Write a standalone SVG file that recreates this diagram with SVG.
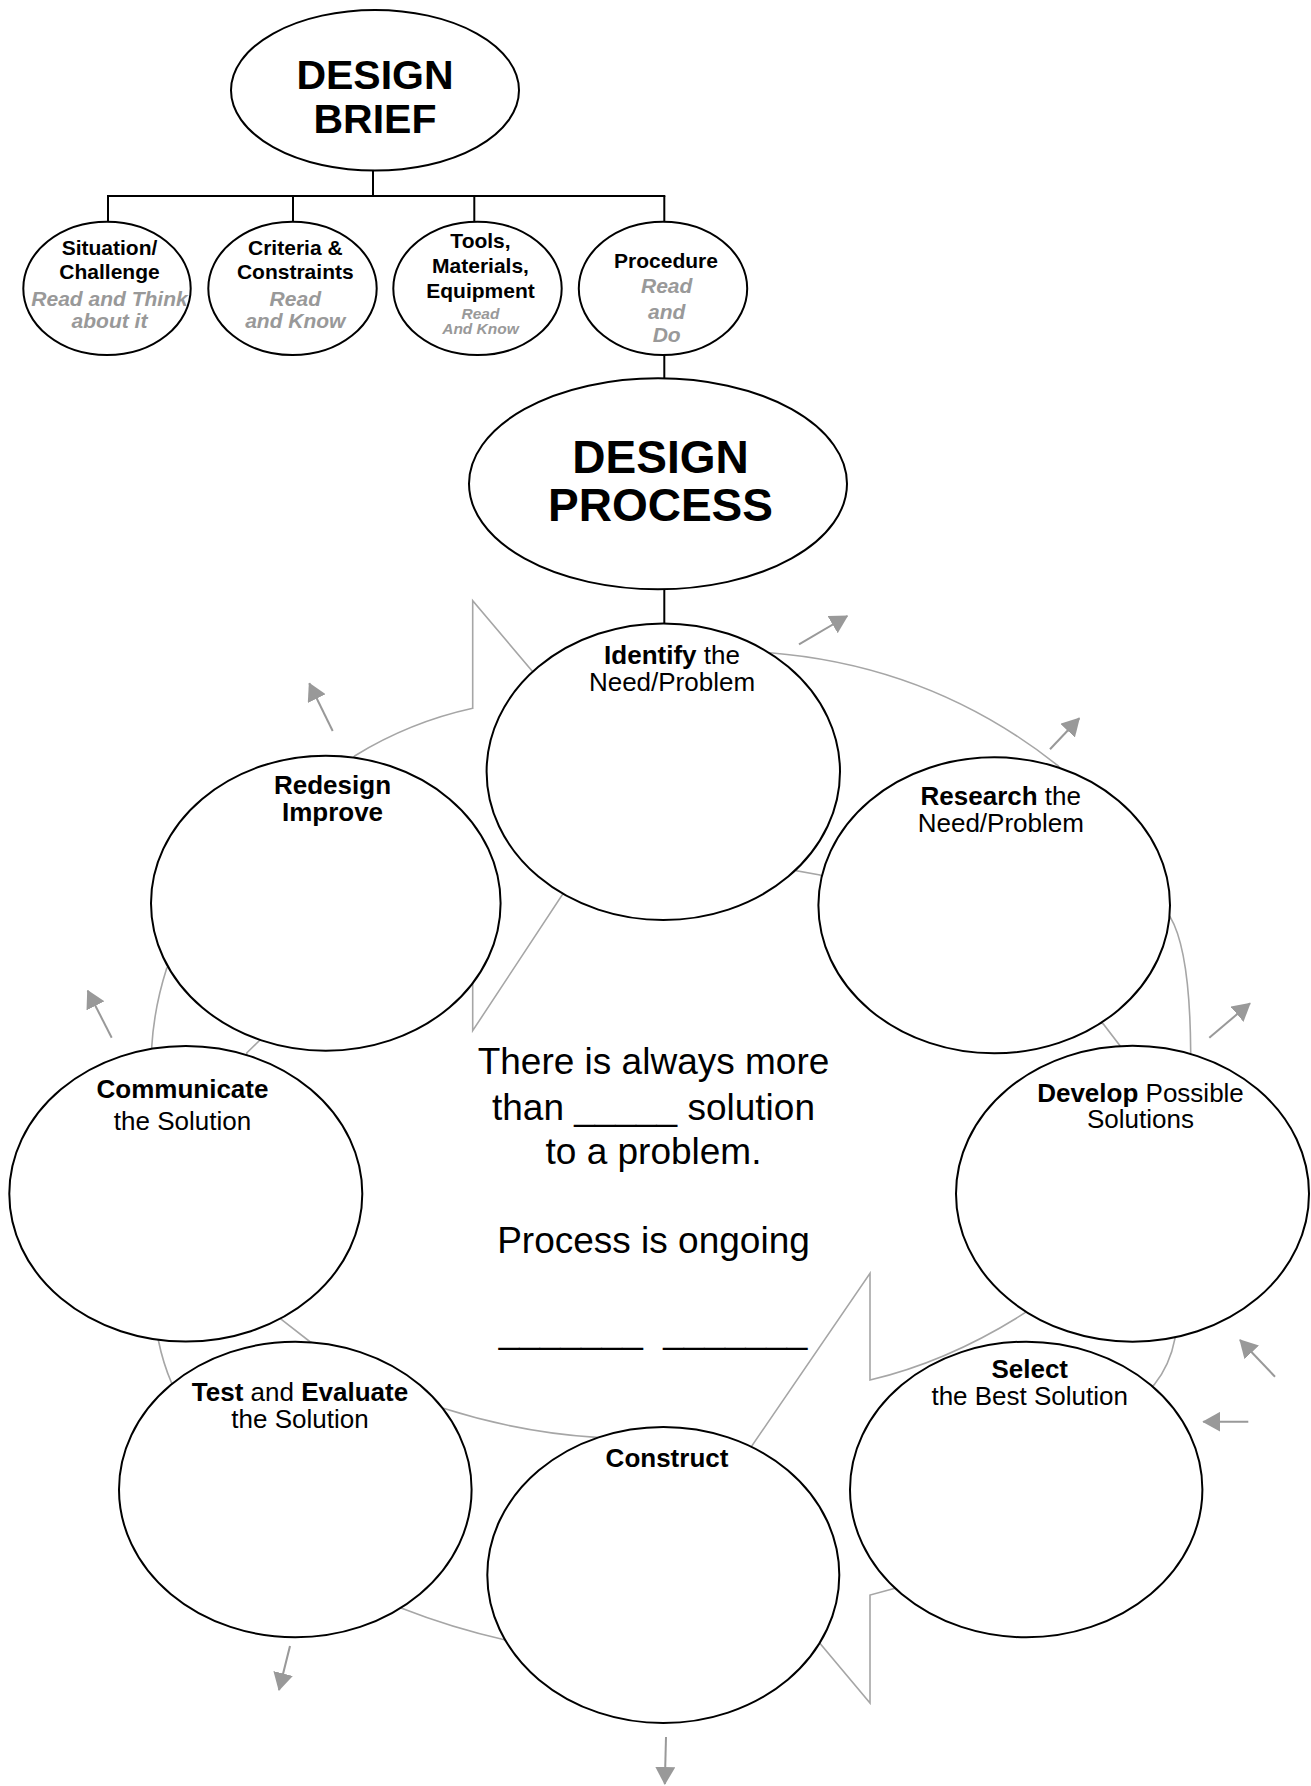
<svg xmlns="http://www.w3.org/2000/svg" width="1311" height="1786" viewBox="0 0 1311 1786">
<style>
.node ellipse{fill:#fff;stroke:#000;stroke-width:2}
text{font-family:"Liberation Sans",Arial,sans-serif;text-anchor:middle;fill:#000}
.big{font-weight:bold;font-size:41px}
.big2{font-weight:bold;font-size:46px}
.sm{font-weight:bold;font-size:21px}
.gr{fill:#999;font-weight:bold;font-style:italic;font-size:21px}
.gr2{fill:#999;font-weight:bold;font-style:italic;font-size:15.5px}
.lbl{font-size:26px}
.b{font-weight:bold}
.ctr{font-size:37px}
.conn{stroke:#000;stroke-width:2;fill:none}
.ring{fill:none;stroke:#a6a6a6;stroke-width:1.6;stroke-linejoin:miter}
.arw{stroke:#999;stroke-width:2;fill:none;marker-end:url(#ah)}
</style>
<defs>
<marker id="ah" markerUnits="userSpaceOnUse" markerWidth="18" markerHeight="20" refX="17" refY="10" orient="auto">
<path d="M0,0 L18,10 L0,20 z" fill="#999"/>
</marker>
</defs>
<rect width="1311" height="1786" fill="#fff"/>

<g id="cycle-arrows">
<path class="ring" d="M632,789 L472.7,600.7 L472.7,708.3 Q410,722 355,755.7 L166.7,968.3 Q154,1008 151.7,1047.3 L158.3,1340 Q163,1363 171.7,1383.3 L401.7,1608.3 Q452,1628 504.3,1639.7 L596.6,1437.4 Q520,1432.7 443.3,1408.3 L310,1341.7 L280,1318.3 L246.7,1053 L260,1040 L472.7,860 L472.7,1030.7 Z"/>
<path class="ring" d="M708,1510 L870,1273.3 L870,1380 Q950,1361 1026.7,1311.7 L1120,1045.7 L1103.3,1024 L820,875 L796.7,870.7 L770,652.7 Q933,666 1058.3,766 L1170,916.7 Q1190,950 1190.7,1051.7 L1175,1338.3 Q1170,1365 1154,1385 L895,1588.3 L870,1595 L870,1703 Z"/>
</g>

<g id="connectors">
<line class="conn" x1="373" y1="170" x2="373" y2="196"/>
<line class="conn" x1="107" y1="196" x2="665.3" y2="196"/>
<line class="conn" x1="108" y1="196" x2="108" y2="222"/>
<line class="conn" x1="293" y1="196" x2="293" y2="222"/>
<line class="conn" x1="474.3" y1="196" x2="474.3" y2="222"/>
<line class="conn" x1="664.3" y1="196" x2="664.3" y2="222"/>
<line class="conn" x1="664.3" y1="355" x2="664.3" y2="379"/>
<line class="conn" x1="664.3" y1="589" x2="664.3" y2="624"/>
</g>

<g id="design-brief" class="node">
<ellipse cx="375" cy="90.3" rx="144" ry="80.3"/>
<text class="big" x="375" y="89.3">DESIGN</text>
<text class="big" x="375" y="132.7">BRIEF</text>
</g>

<g id="situation" class="node">
<ellipse cx="107" cy="288.4" rx="83.7" ry="66.7"/>
<text class="sm" x="109.5" y="255">Situation/</text>
<text class="sm" x="109.5" y="279.3">Challenge</text>
<text class="gr" x="109.5" y="305.7">Read and Think</text>
<text class="gr" x="109.5" y="328.3">about it</text>
</g>

<g id="criteria" class="node">
<ellipse cx="292.5" cy="288.4" rx="84.2" ry="66.7"/>
<text class="sm" x="295.3" y="255">Criteria &amp;</text>
<text class="sm" x="295.3" y="279.3">Constraints</text>
<text class="gr" x="295.3" y="305.7">Read</text>
<text class="gr" x="295.3" y="328.3">and Know</text>
</g>

<g id="tools" class="node">
<ellipse cx="477.5" cy="288.4" rx="84.2" ry="66.7"/>
<text class="sm" x="480.5" y="248.3">Tools,</text>
<text class="sm" x="480.5" y="273.3">Materials,</text>
<text class="sm" x="480.5" y="298.3">Equipment</text>
<text class="gr2" x="480.5" y="319">Read</text>
<text class="gr2" x="480.5" y="334.3">And Know</text>
</g>

<g id="procedure" class="node">
<ellipse cx="663" cy="288.4" rx="84.2" ry="66.7"/>
<text class="sm" x="666" y="268.3">Procedure</text>
<text class="gr" x="666.7" y="293.3">Read</text>
<text class="gr" x="666.7" y="319">and</text>
<text class="gr" x="666.7" y="341.7">Do</text>
</g>

<g id="design-process" class="node">
<ellipse cx="658" cy="483.8" rx="189" ry="105.5"/>
<text class="big2" x="660.5" y="473">DESIGN</text>
<text class="big2" x="660.5" y="521">PROCESS</text>
</g>

<g id="identify" class="node">
<ellipse cx="663.3" cy="771.7" rx="176.7" ry="148.3"/>
<text class="lbl" x="672" y="664.3"><tspan class="b">Identify</tspan> the</text>
<text class="lbl" x="672" y="691">Need/Problem</text>
</g>

<g id="research" class="node">
<ellipse cx="994.2" cy="905.3" rx="175.8" ry="148"/>
<text class="lbl" x="1000.8" y="805"><tspan class="b">Research</tspan> the</text>
<text class="lbl" x="1000.8" y="831.7">Need/Problem</text>
</g>

<g id="redesign" class="node">
<ellipse cx="325.8" cy="903.2" rx="174.8" ry="147.5"/>
<text class="lbl b" x="332.5" y="794">Redesign</text>
<text class="lbl b" x="332.5" y="821">Improve</text>
</g>

<g id="communicate" class="node">
<ellipse cx="185.8" cy="1193.8" rx="176.5" ry="147.8"/>
<text class="lbl b" x="182.5" y="1098.3">Communicate</text>
<text class="lbl" x="182.5" y="1130">the Solution</text>
</g>

<g id="develop" class="node">
<ellipse cx="1132.5" cy="1193.7" rx="176.5" ry="148"/>
<text class="lbl" x="1140.5" y="1101.7"><tspan class="b">Develop</tspan> Possible</text>
<text class="lbl" x="1140.5" y="1128.3">Solutions</text>
</g>

<g id="test" class="node">
<ellipse cx="295.3" cy="1489.5" rx="176.3" ry="147.8"/>
<text class="lbl" x="300" y="1400.5"><tspan class="b">Test</tspan> and <tspan class="b">Evaluate</tspan></text>
<text class="lbl" x="300" y="1427.5">the Solution</text>
</g>

<g id="select" class="node">
<ellipse cx="1026.2" cy="1489.5" rx="176.2" ry="147.8"/>
<text class="lbl b" x="1029.7" y="1378.3">Select</text>
<text class="lbl" x="1029.7" y="1405">the Best Solution</text>
</g>

<g id="construct" class="node">
<ellipse cx="663.3" cy="1575" rx="176" ry="148"/>
<text class="lbl b" x="667" y="1467">Construct</text>
</g>

<g id="center-text">
<text class="ctr" x="653.5" y="1074.3">There is always more</text>
<text class="ctr" x="653.5" y="1119.5">than _____ solution</text>
<text class="ctr" x="653.5" y="1164">to a problem.</text>
<text class="ctr" x="653.5" y="1253">Process is ongoing</text>
<text class="ctr" x="653" y="1343" xml:space="preserve">_______  _______</text>
</g>

<g id="small-arrows">
<line class="arw" x1="799" y1="644.3" x2="847.3" y2="616"/>
<line class="arw" x1="332.7" y1="731" x2="309.3" y2="683.3"/>
<line class="arw" x1="1050" y1="749.3" x2="1079.3" y2="718.3"/>
<line class="arw" x1="111.7" y1="1037.7" x2="87.7" y2="990.7"/>
<line class="arw" x1="1209.3" y1="1037.7" x2="1250" y2="1003.3"/>
<line class="arw" x1="1275" y1="1376.7" x2="1240" y2="1340"/>
<line class="arw" x1="1248.3" y1="1421.7" x2="1203.3" y2="1421.7"/>
<line class="arw" x1="290" y1="1646" x2="279" y2="1690"/>
<line class="arw" x1="666" y1="1737" x2="664.8" y2="1784"/>
</g>
</svg>
